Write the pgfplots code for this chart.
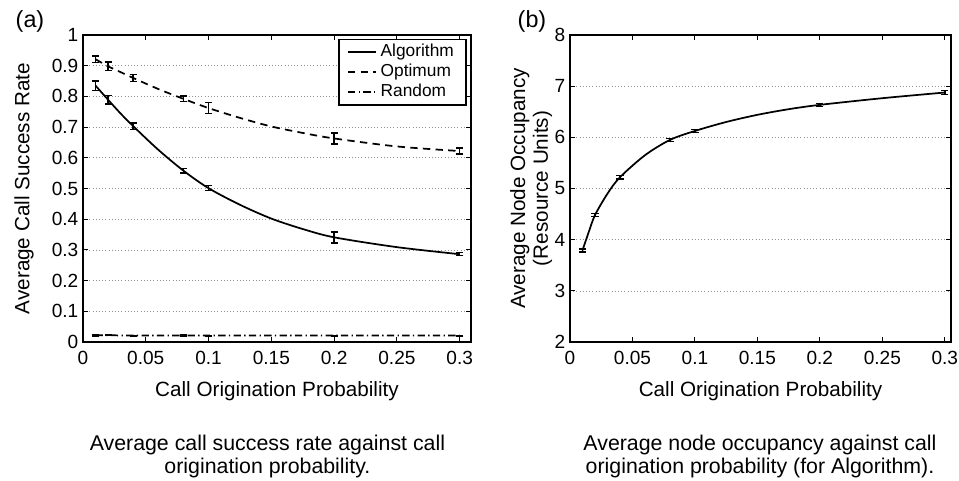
\documentclass[border=0pt]{standalone}
\usepackage{pgfplots}
\pgfplotsset{compat=1.18}
\usepackage{fontspec}
\setmainfont{Liberation Sans}
\pgfplotsset{
  matlab/.style={
    scale only axis,
    anchor=south west,
    axis line style={line width=1.1pt},
    every tick/.style={black, line width=0.7pt},
    major tick length=4pt,
    tick align=inside,
    /pgf/number format/assume math mode=true,
    /pgf/number format/fixed,
    tick label style={font=\fontsize{14.3}{14}\selectfont},
    xticklabel style={yshift=-3pt},
    label style={font=\fontsize{15.5}{17}\selectfont},
    ymajorgrids,
    major grid style={dotted, gray!85, line width=0.5pt},
    xmin=0, xtick={0,0.05,0.1,0.15,0.2,0.25,0.3},
    xticklabels={0,0.05,0.1,0.15,0.2,0.25,0.3},
    xlabel={Call Origination Probability},
    xlabel style={at={(axis description cs:0.5,-0.179)}, anchor=base},
  },
  curve/.style={smooth, tension=0.5, mark=none, black, line width=1.3pt},
  ebar/.style={only marks, mark=text, text mark={}, black, forget plot,
    error bars/y dir=both, error bars/y explicit,
    error bars/error bar style={solid, line width=1.1pt},
    error bars/error mark options={rotate=90, mark size=2.7pt, solid, line width=1.1pt}},
}
\begin{document}
\begin{tikzpicture}
\path[use as bounding box] (0,0) rectangle (719.25pt,360pt);

\begin{axis}[matlab,
  at={(62.25pt,103.5pt)}, width=291pt, height=230.25pt,
  xmax=0.309, ymin=0, ymax=1,
  ytick={0,0.1,0.2,0.3,0.4,0.5,0.6,0.7,0.8,0.9,1},
  yticklabels={0,0.1,0.2,0.3,0.4,0.5,0.6,0.7,0.8,0.9,1},
  ylabel={Average Call Success Rate},
  ylabel style={at={(axis description cs:-0.152,0.5)}, anchor=center},
  legend style={at={(axis cs:0.3055,0.987)}, anchor=north east,
    font=\fontsize{13}{14}\selectfont, draw=black, line width=1.1pt,
    inner xsep=6pt, inner ysep=1.9pt,
    nodes={inner xsep=3pt, inner ysep=1.25pt, text height=9.5pt, text depth=3pt},
    row sep=0pt},
  legend cell align=left,
  legend image code/.code={\draw[#1, line width=1.2pt] (0pt,0pt) -- (21pt,0pt);},
]
% Algorithm: curve and measured points with error bars
\addplot[curve] table {
0.01 0.835
0.02 0.789
0.03 0.744
0.04 0.703
0.06 0.626
0.08 0.558
0.10 0.501
0.125 0.447
0.15 0.402
0.175 0.368
0.20 0.341
0.25 0.309
0.30 0.286
};
\addlegendentry{Algorithm}
\addplot[ebar] table[x=x, y=y, y error=e] {
x y e
0.01 0.835 0.015
0.02 0.789 0.014
0.04 0.703 0.010
0.08 0.558 0.007
0.10 0.501 0.008
0.20 0.341 0.018
0.30 0.286 0.005
};
% Optimum
\addplot[curve, dash pattern=on 5.5pt off 4pt] table {
0.01 0.921
0.02 0.898
0.03 0.879
0.04 0.860
0.06 0.824
0.08 0.792
0.10 0.762
0.125 0.730
0.15 0.702
0.175 0.681
0.20 0.663
0.25 0.637
0.30 0.622
};
\addlegendentry{Optimum}
\addplot[ebar] table[x=x, y=y, y error=e] {
x y e
0.01 0.921 0.010
0.02 0.898 0.014
0.04 0.860 0.011
0.08 0.792 0.009
0.10 0.762 0.018
0.20 0.663 0.018
0.30 0.622 0.010
};
% Random
\addplot[curve, dash pattern=on 5.5pt off 2.5pt on 1pt off 2.5pt] table {
0.01 0.022
0.02 0.022
0.04 0.021
0.08 0.021
0.10 0.021
0.20 0.021
0.30 0.021
};
\addlegendentry{Random}
\addplot[ebar] table[x=x, y=y, y error=e] {
x y e
0.01 0.022 0.002
0.02 0.022 0.001
0.04 0.021 0.001
0.08 0.021 0.002
0.10 0.021 0.001
0.20 0.021 0.001
0.30 0.021 0.001
};
\end{axis}

\begin{axis}[matlab,
  at={(427.5pt,103.5pt)}, width=285.75pt, height=230.25pt,
  xmax=0.305, ymin=2, ymax=8,
  ytick={2,3,4,5,6,7,8},
  ylabel={Average Node Occupancy\\(Resource Units)},
  ylabel style={at={(axis description cs:-0.102,0.5)}, anchor=center, align=center},
]
\addplot[curve] table {
0.01 3.790
0.015 4.150
0.02 4.480
0.03 4.900
0.04 5.220
0.06 5.650
0.08 5.950
0.10 6.125
0.125 6.300
0.15 6.440
0.175 6.550
0.20 6.635
0.25 6.765
0.30 6.876
};
\addplot[ebar] table[x=x, y=y, y error=e] {
x y e
0.01 3.790 0.03
0.02 4.480 0.03
0.04 5.220 0.03
0.08 5.950 0.03
0.10 6.125 0.03
0.20 6.635 0.03
0.30 6.876 0.04
};
\end{axis}

\node[font=\fontsize{17.5}{17}\selectfont] at (22.5pt,344.25pt) {(a)};
\node[font=\fontsize{17.5}{17}\selectfont] at (399pt,344.25pt) {(b)};

\node[font=\fontsize{16}{16}\selectfont, anchor=base] at (200.6pt,22.5pt) {Average call success rate against call};
\node[font=\fontsize{16}{16}\selectfont, anchor=base] at (200.6pt,5.25pt) {origination probability.};
\node[font=\fontsize{16}{16}\selectfont, anchor=base] at (570pt,22.5pt) {Average node occupancy against call};
\node[font=\fontsize{16}{16}\selectfont, anchor=base] at (570pt,5.25pt) {origination probability (for Algorithm).};
\end{tikzpicture}
\end{document}
